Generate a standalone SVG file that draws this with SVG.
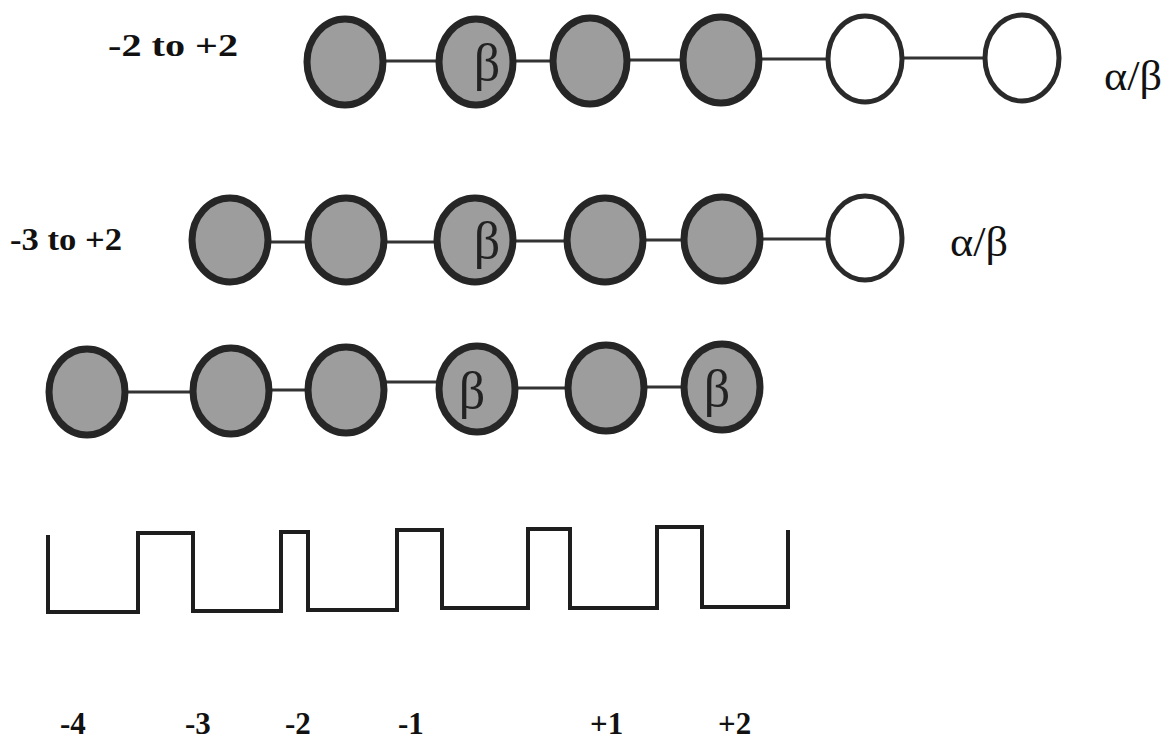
<svg xmlns="http://www.w3.org/2000/svg" width="1171" height="741" viewBox="0 0 1171 741">
<style>
.f{fill:#9d9d9d;stroke:#262626;stroke-width:7}
.o{fill:#fff;stroke:#2a2a2a;stroke-width:5}
.c{stroke:#333;stroke-width:3;fill:none}
.w{fill:none;stroke:#1e1e1e;stroke-width:4;stroke-linejoin:miter}
</style>
<rect width="1171" height="741" fill="#fff"/>
<g id="connectors">
<line class="c" x1="384" y1="61" x2="438" y2="61"/>
<line class="c" x1="514" y1="61" x2="552" y2="61"/>
<line class="c" x1="629" y1="60" x2="682" y2="60"/>
<line class="c" x1="760" y1="59" x2="827" y2="59"/>
<line class="c" x1="903" y1="58" x2="985" y2="58"/>
<line class="c" x1="269" y1="242" x2="307" y2="242"/>
<line class="c" x1="385" y1="242" x2="437" y2="242"/>
<line class="c" x1="513" y1="241" x2="567" y2="241"/>
<line class="c" x1="644" y1="240" x2="683" y2="240"/>
<line class="c" x1="760" y1="239" x2="827" y2="239"/>
<line class="c" x1="125" y1="392" x2="192" y2="392"/>
<line class="c" x1="269" y1="390" x2="307" y2="390"/>
<line class="c" x1="385" y1="382" x2="438" y2="382"/>
<line class="c" x1="515" y1="388" x2="567" y2="388"/>
<line class="c" x1="645" y1="387" x2="683" y2="387"/>
</g>
<g id="label-row1"><text font-family="Liberation Serif, Times New Roman, serif" font-weight="bold" font-size="31" fill="#111" x="108" y="56" textLength="130" lengthAdjust="spacingAndGlyphs">-2 to +2</text></g>
<g id="r1n1"><ellipse class="f" cx="345" cy="62" rx="38" ry="43"/></g>
<g id="r1n2"><ellipse class="f" cx="476" cy="62" rx="37" ry="43"/><text font-family="Liberation Serif, Times New Roman, serif" font-size="52" fill="#222" text-anchor="middle" x="487" y="80">β</text></g>
<g id="r1n3"><ellipse class="f" cx="590" cy="61" rx="37" ry="43"/></g>
<g id="r1n4"><ellipse class="f" cx="721" cy="60" rx="38" ry="43"/></g>
<g id="r1n5"><ellipse class="o" cx="865" cy="59" rx="37" ry="43"/></g>
<g id="r1n6"><ellipse class="o" cx="1022" cy="58" rx="37" ry="43"/></g>
<g id="ab1"><text font-family="Liberation Serif, Times New Roman, serif" font-size="42" fill="#111" x="1104" y="90" textLength="58" lengthAdjust="spacingAndGlyphs">α/β</text></g>
<g id="label-row2"><text font-family="Liberation Serif, Times New Roman, serif" font-weight="bold" font-size="31" fill="#111" x="10" y="250" textLength="112" lengthAdjust="spacingAndGlyphs">-3 to +2</text></g>
<g id="r2n1"><ellipse class="f" cx="230" cy="240" rx="38" ry="42"/></g>
<g id="r2n2"><ellipse class="f" cx="346" cy="240" rx="38" ry="42"/></g>
<g id="r2n3"><ellipse class="f" cx="475" cy="240" rx="38" ry="42"/><text font-family="Liberation Serif, Times New Roman, serif" font-size="52" fill="#222" text-anchor="middle" x="487" y="258">β</text></g>
<g id="r2n4"><ellipse class="f" cx="605" cy="240" rx="38" ry="42"/></g>
<g id="r2n5"><ellipse class="f" cx="722" cy="239" rx="38" ry="42"/></g>
<g id="r2n6"><ellipse class="o" cx="865" cy="238" rx="37" ry="42"/></g>
<g id="ab2"><text font-family="Liberation Serif, Times New Roman, serif" font-size="42" fill="#111" x="950" y="256" textLength="58" lengthAdjust="spacingAndGlyphs">α/β</text></g>
<g id="r3n1"><ellipse class="f" cx="87" cy="392" rx="38" ry="43"/></g>
<g id="r3n2"><ellipse class="f" cx="231" cy="391" rx="38" ry="43"/></g>
<g id="r3n3"><ellipse class="f" cx="346" cy="390" rx="38" ry="43"/></g>
<g id="r3n4"><ellipse class="f" cx="477" cy="389" rx="38" ry="43"/><text font-family="Liberation Serif, Times New Roman, serif" font-size="52" fill="#222" text-anchor="middle" x="472" y="408">β</text></g>
<g id="r3n5"><ellipse class="f" cx="606" cy="388" rx="38" ry="43"/></g>
<g id="r3n6"><ellipse class="f" cx="722" cy="387" rx="38" ry="43"/><text font-family="Liberation Serif, Times New Roman, serif" font-size="52" fill="#222" text-anchor="middle" x="717" y="406">β</text></g>
<g id="wave"><polyline class="w" points="48,535 48,612 138,612 138,533 193,533 193,611 281,611 281,532 308,532 308,610 397,610 397,530 442,530 442,608 528,608 528,529 570,529 570,608 657,608 657,527 702,527 702,607 788,607 788,530"/></g>
<g id="axis-labels" font-family="Liberation Serif, Times New Roman, serif" font-weight="bold" font-size="31" fill="#111">
<text x="60" y="734">-4</text>
<text x="185" y="734">-3</text>
<text x="285" y="734">-2</text>
<text x="398" y="734">-1</text>
<text x="590" y="734">+1</text>
<text x="718" y="734">+2</text>
</g>
</svg>
